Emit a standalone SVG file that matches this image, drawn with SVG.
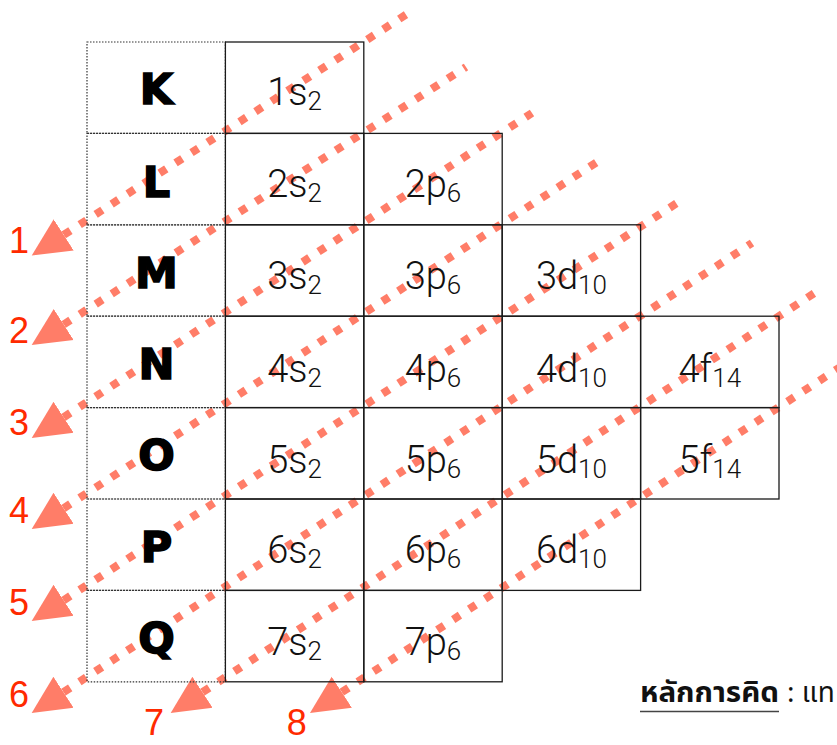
<svg xmlns="http://www.w3.org/2000/svg" width="837" height="745" viewBox="0 0 837 745">
<style>
.cell{fill:none;stroke:#1a1a1a;stroke-width:1.3}
.lab{fill:none;stroke:#333;stroke-width:1.2;stroke-dasharray:1.5 1.5}
.sh{font-family:"DejaVu Sans",sans-serif;font-weight:bold;font-size:43px;fill:#000;stroke:#000;stroke-width:1.6;text-anchor:middle}
.orb{font-family:Roboto,"Liberation Sans",sans-serif;font-weight:300;font-size:38px;fill:#111;text-anchor:middle}
.sub{font-size:26px}
.num{font-family:"Liberation Sans Narrow","Liberation Sans",sans-serif;font-size:36px;fill:#ff2a00;text-anchor:middle}
.ln{fill:none;stroke:#ff7d68;stroke-width:8;stroke-dasharray:8 11}
.thai{font-family:"Noto Sans Thai","Noto Sans","DejaVu Sans",sans-serif;font-size:28px;fill:#111}
</style>
<defs>
<marker id="ah" markerUnits="userSpaceOnUse" markerWidth="40" markerHeight="40" viewBox="0 -20 40 40" refX="0" refY="0" orient="auto-start-reverse">
<path d="M0,-18.5 L38,0 L0,18.5 Z" fill="#ff7d68"/>
</marker>
</defs>
<rect width="837" height="745" fill="#fff"/>

<g id="connectors">
<path class="ln" marker-start="url(#ah)" d="M63.7,234.9 L407,14"/>
<path class="ln" marker-start="url(#ah)" d="M63.7,324.5 L466,67"/>
<path class="ln" marker-start="url(#ah)" d="M63.6,417.3 L532,113"/>
<path class="ln" marker-start="url(#ah)" d="M63.6,508.3 L597,162"/>
<path class="ln" marker-start="url(#ah)" d="M63.6,600.3 L677,203"/>
<path class="ln" marker-start="url(#ah)" d="M63.5,692.2 L752,243"/>
<path class="ln" marker-start="url(#ah)" d="M202.5,692.2 L816,292"/>
<path class="ln" marker-start="url(#ah)" d="M341.8,692.2 L845,364"/>
</g>

<g id="shells">
<g id="shell-K"><rect class="lab" x="87" y="42" width="138.4" height="91.4"/><text class="sh" x="156.5" y="104">K</text></g>
<g id="shell-L"><rect class="lab" x="87" y="133.4" width="138.4" height="91.4"/><text class="sh" x="156.5" y="196.5">L</text></g>
<g id="shell-M"><rect class="lab" x="87" y="224.8" width="138.4" height="91.4"/><text class="sh" x="156.5" y="288.3">M</text></g>
<g id="shell-N"><rect class="lab" x="87" y="316.2" width="138.4" height="91.4"/><text class="sh" x="156.5" y="378.5">N</text></g>
<g id="shell-O"><rect class="lab" x="87" y="407.6" width="138.4" height="91.4"/><text class="sh" x="156.5" y="470">O</text></g>
<g id="shell-P"><rect class="lab" x="87" y="499" width="138.4" height="91.4"/><text class="sh" x="156.5" y="561.7">P</text></g>
<g id="shell-Q"><rect class="lab" x="87" y="590.4" width="138.4" height="91.4"/><text class="sh" x="156.5" y="653.3">Q</text></g>
</g>

<g id="orbitals">
<g id="o1s"><rect class="cell" x="225.4" y="42" width="138.4" height="91.4"/><text class="orb" x="294.6" y="105">1s<tspan class="sub" dy="5">2</tspan></text></g>
<g id="o2s"><rect class="cell" x="225.4" y="133.4" width="138.4" height="91.4"/><text class="orb" x="294.6" y="196.7">2s<tspan class="sub" dy="5">2</tspan></text></g>
<g id="o2p"><rect class="cell" x="363.8" y="133.4" width="138.4" height="91.4"/><text class="orb" x="433" y="196.7">2p<tspan class="sub" dy="5">6</tspan></text></g>
<g id="o3s"><rect class="cell" x="225.4" y="224.8" width="138.4" height="91.4"/><text class="orb" x="294.6" y="289">3s<tspan class="sub" dy="5">2</tspan></text></g>
<g id="o3p"><rect class="cell" x="363.8" y="224.8" width="138.4" height="91.4"/><text class="orb" x="433" y="289">3p<tspan class="sub" dy="5">6</tspan></text></g>
<g id="o3d"><rect class="cell" x="502.2" y="224.8" width="138.4" height="91.4"/><text class="orb" x="571.4" y="289">3d<tspan class="sub" dy="5">10</tspan></text></g>
<g id="o4s"><rect class="cell" x="225.4" y="316.2" width="138.4" height="91.4"/><text class="orb" x="294.6" y="382">4s<tspan class="sub" dy="5">2</tspan></text></g>
<g id="o4p"><rect class="cell" x="363.8" y="316.2" width="138.4" height="91.4"/><text class="orb" x="433" y="382">4p<tspan class="sub" dy="5">6</tspan></text></g>
<g id="o4d"><rect class="cell" x="502.2" y="316.2" width="138.4" height="91.4"/><text class="orb" x="571.4" y="382">4d<tspan class="sub" dy="5">10</tspan></text></g>
<g id="o4f"><rect class="cell" x="640.6" y="316.2" width="138.4" height="91.4"/><text class="orb" x="709.8" y="382">4f<tspan class="sub" dy="5">14</tspan></text></g>
<g id="o5s"><rect class="cell" x="225.4" y="407.6" width="138.4" height="91.4"/><text class="orb" x="294.6" y="473">5s<tspan class="sub" dy="5">2</tspan></text></g>
<g id="o5p"><rect class="cell" x="363.8" y="407.6" width="138.4" height="91.4"/><text class="orb" x="433" y="473">5p<tspan class="sub" dy="5">6</tspan></text></g>
<g id="o5d"><rect class="cell" x="502.2" y="407.6" width="138.4" height="91.4"/><text class="orb" x="571.4" y="473">5d<tspan class="sub" dy="5">10</tspan></text></g>
<g id="o5f"><rect class="cell" x="640.6" y="407.6" width="138.4" height="91.4"/><text class="orb" x="709.8" y="473">5f<tspan class="sub" dy="5">14</tspan></text></g>
<g id="o6s"><rect class="cell" x="225.4" y="499" width="138.4" height="91.4"/><text class="orb" x="294.6" y="563.3">6s<tspan class="sub" dy="5">2</tspan></text></g>
<g id="o6p"><rect class="cell" x="363.8" y="499" width="138.4" height="91.4"/><text class="orb" x="433" y="563.3">6p<tspan class="sub" dy="5">6</tspan></text></g>
<g id="o6d"><rect class="cell" x="502.2" y="499" width="138.4" height="91.4"/><text class="orb" x="571.4" y="563.3">6d<tspan class="sub" dy="5">10</tspan></text></g>
<g id="o7s"><rect class="cell" x="225.4" y="590.4" width="138.4" height="91.4"/><text class="orb" x="294.6" y="655">7s<tspan class="sub" dy="5">2</tspan></text></g>
<g id="o7p"><rect class="cell" x="363.8" y="590.4" width="138.4" height="91.4"/><text class="orb" x="433" y="655">7p<tspan class="sub" dy="5">6</tspan></text></g>
</g>

<g id="labels">
<text class="num" x="19" y="253">1</text>
<text class="num" x="19" y="343.3">2</text>
<text class="num" x="19" y="435">3</text>
<text class="num" x="19" y="522.7">4</text>
<text class="num" x="19" y="615">5</text>
<text class="num" x="19" y="706.7">6</text>
<text class="num" x="154" y="735" font-size="34">7</text>
<text class="num" x="296.7" y="735" font-size="34">8</text>
</g>

<g id="note">
<text class="thai" x="640" y="702" font-weight="bold" textLength="139" lengthAdjust="spacingAndGlyphs">หลักการคิด</text>
<text class="thai" x="787" y="702">: แท</text>
<line x1="640" y1="711.5" x2="779" y2="711.5" stroke="#444" stroke-width="1.6"/>
</g>
</svg>
